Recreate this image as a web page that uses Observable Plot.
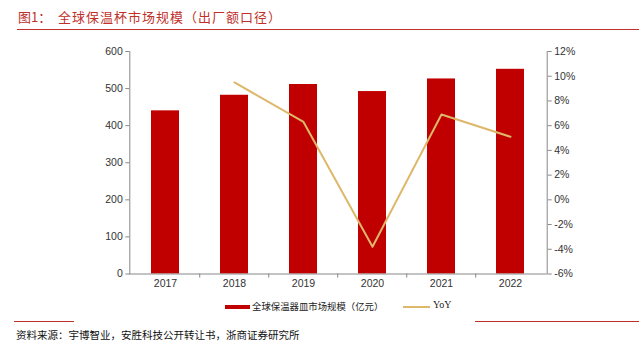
<!DOCTYPE html>
<html><head><meta charset="utf-8">
<script src="https://cdn.jsdelivr.net/npm/d3@7"></script>
<script src="https://cdn.jsdelivr.net/npm/@observablehq/plot@0.6"></script>
<style>
body{margin:0;background:#fff;}
#wrap{position:relative;width:639px;height:352px;overflow:hidden;font-family:"Noto Sans CJK SC","Liberation Sans",sans-serif;}
.abs{position:absolute;white-space:nowrap;}
</style></head>
<body><div id="wrap">
<div class="abs" style="left:18px;top:7px;font-size:13px;color:#C0302B;">图1：</div>
<div class="abs" style="left:58px;top:7px;font-size:13px;letter-spacing:1px;color:#C0302B;">全球保温杯市场规模（出厂额口径）</div>
<div class="abs" style="left:17px;top:29px;width:622px;height:1px;background:#C0302B;"></div>
<div class="abs" style="left:14px;top:321px;width:60px;height:1px;background:#C0302B;"></div>
<div class="abs" style="left:475px;top:321px;width:164px;height:1px;background:#C0302B;"></div>
<div class="abs" style="left:16px;top:327px;font-size:10.5px;color:#111;">资料来源：宇博智业，安胜科技公开转让书，浙商证券研究所</div>
<div class="abs" style="left:225px;top:305px;width:25px;height:4px;background:#C00000;"></div>
<div class="abs" style="left:252px;top:299px;font-size:9.4px;color:#222;">全球保温器皿市场规模（亿元）</div>
<div class="abs" style="left:403px;top:306px;width:27px;height:2px;background:#DDB86A;"></div>
<div class="abs" style="left:433px;top:299px;font-size:10px;color:#222;font-family:'Liberation Serif',serif;">YoY</div>
<div id="chart" class="abs" style="left:0;top:0;"></div>
</div>
<script>
const years = ["2017","2018","2019","2020","2021","2022"];
const marketSize = [440, 482, 511, 492, 526, 552];
const yoy = [null, 9.5, 6.3, -3.8, 6.9, 5.1];
const leftTicks = [0,100,200,300,400,500,600];
const rightTicks = [-6,-4,-2,0,2,4,6,8,10,12];

const rMin = -6, rMax = 12, lMax = 600;
const toLeft = v => (v - rMin) / (rMax - rMin) * lMax;
const fromLeft = y => y / lMax * (rMax - rMin) + rMin;

const bars = years.map((y,i)=>({year:y, value:marketSize[i]}));
const line = years.map((y,i)=>({year:y, yoy:yoy[i]})).filter(d=>d.yoy!=null);
const inner = years.slice(1);

const chart = Plot.plot({
  width:639, height:290,
  marginTop:51, marginBottom:16.5, marginLeft:129.3, marginRight:92.3,
  style:{fontFamily:"'Liberation Sans',Arial,sans-serif", fontSize:"10.5px", color:"#333", background:"transparent"},
  x:{type:"band", domain:years, paddingInner:0.59, paddingOuter:0.295, label:null},
  y:{domain:[0,lMax], label:null},
  marks:[
    Plot.barY(bars,{x:"year", y:"value", fill:"#C00000"}),
    Plot.lineY(line,{x:"year", y:d=>toLeft(d.yoy), stroke:"#DDB86A", strokeWidth:2}),
    Plot.ruleY([0],{stroke:"#888"}),
    Plot.ruleX(inner,{x:d=>d, dx:-34.78, y1:0, y2:-11, stroke:"#888"}),
    Plot.frame({anchor:"left", stroke:"#888"}),
    Plot.frame({anchor:"right", stroke:"#888"}),
    Plot.axisX({tickSize:0, tickPadding:6, label:null, fill:"#333"}),
    Plot.axisY({ticks:leftTicks, tickSize:4, tickPadding:3, label:null, stroke:"#888", fill:"#333"}),
    Plot.axisY({anchor:"right", ticks:rightTicks.map(toLeft), tickFormat:y=>Math.round(fromLeft(y))+"%", tickSize:4, tickPadding:3, label:null, stroke:"#888", fill:"#333"})
  ]
});
document.getElementById("chart").appendChild(chart);
</script>
</body></html>
